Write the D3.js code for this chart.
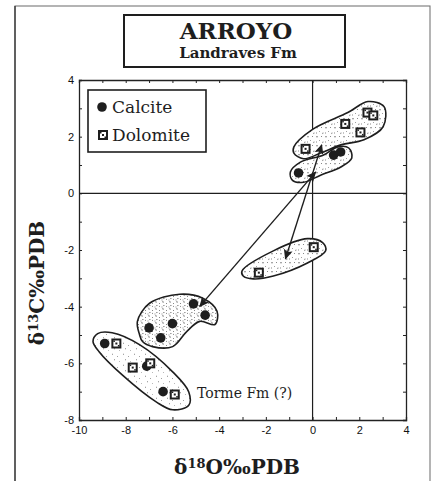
<!DOCTYPE html>
<html>
<head>
<meta charset="utf-8">
<script src="https://cdn.jsdelivr.net/npm/d3@7"></script>
<style>
  body { margin: 0; background: #fff; }
  .tick text { font-family: "Liberation Sans", Arial, sans-serif; font-size: 11px; fill: #111; }
  .axis path, .axis line { stroke: #222; }
</style>
</head>
<body>
<svg width="433" height="481"></svg>
<script>
// delta18O (x) and delta13C (y) values
var calciteX = [-0.6, 0.9, 1.2, -5.1, -4.6, -7.0, -6.0, -6.5, -8.9, -7.1, -6.4];
var calciteY = [0.72, 1.35, 1.46, -3.9, -4.3, -4.75, -4.6, -5.1, -5.3, -6.1, -7.0];
var dolomiteX = [-0.3, 1.4, 2.35, 2.6, 2.05, 0.05, -2.3, -8.4, -7.7, -6.95, -5.9];
var dolomiteY = [1.57, 2.45, 2.85, 2.75, 2.15, -1.9, -2.8, -5.3, -6.15, -6.0, -7.1];

// envelopes round each group (x, y pairs)
var envUpperX = [-0.8, 0.0, 1.51, 2.37, 3.06, 3.02, 2.2, 1.21, 0.34, -0.39, -0.8];
var envUpperY = [1.64, 2.26, 2.85, 3.24, 3.06, 2.35, 1.89, 1.71, 1.42, 1.22, 1.42];
var envCalcX = [-0.95, -0.52, 0.47, 1.08, 1.55, 1.68, 1.21, 0.34, -0.39, -0.86];
var envCalcY = [0.75, 1.1, 1.35, 1.64, 1.6, 1.25, 0.93, 0.64, 0.39, 0.46];
var envMidX = [-3.02, -1.68, -0.22, 0.43, 0.56, -0.22, -1.68, -2.54, -2.97];
var envMidY = [-2.74, -2.03, -1.6, -1.74, -2.03, -2.46, -2.92, -3.02, -2.92];
var envKidneyX = [-7.41, -7.5, -6.98, -5.69, -4.7, -4.09, -4.18, -4.83, -5.39, -5.99, -6.85, -7.28];
var envKidneyY = [-4.98, -4.52, -3.88, -3.56, -3.7, -4.16, -4.63, -4.52, -4.88, -5.41, -5.41, -5.23];
var envLowX = [-9.2, -8.58, -7.41, -5.99, -5.3, -5.3, -5.99, -6.68, -8.15, -9.14, -9.4];
var envLowY = [-4.95, -4.92, -5.34, -6.3, -7.01, -7.48, -7.64, -7.37, -6.41, -5.59, -5.23];

// double headed arrows: [x1, y1, x2, y2]
var arrowA = [0.13, 0.75, -4.83, -3.99];
var arrowB = [0.39, 1.71, -1.16, -2.31];

var xTicks = [-10, -9, -8, -7, -6, -5, -4, -3, -2, -1, 0, 1, 2, 3, 4];
var yTicks = [-8, -7, -6, -5, -4, -3, -2, -1, 0, 1, 2, 3, 4];

var svg = d3.select("svg");
var x = d3.scaleLinear().domain([-10, 4]).range([79, 406]);
var y = d3.scaleLinear().domain([-8, 4]).range([420, 80]);
var ink = "#1e1e1e";

// stipple patterns
var defs = svg.append("defs");
function stipple(id, w, marks) {
  var p = defs.append("pattern").attr("id", id).attr("patternUnits", "userSpaceOnUse")
    .attr("width", w).attr("height", w);
  p.append("rect").attr("width", w).attr("height", w).attr("fill", "#fff");
  marks.forEach(function(m) {
    p.append("path").attr("d", m).attr("stroke", "#555").attr("stroke-width", 0.7).attr("fill", "none");
  });
}
stipple("light", 11, ["M2,2 l1,0.5", "M7,4 l0.8,0.8", "M4,8 l1,-0.5", "M9,9 l0.6,0.6"]);
stipple("medium", 9, ["M1,2 q1,-1 2,0", "M6,1 l1,1", "M4,5 l0.8,0.8", "M7,7 q1,1 1.5,0", "M1,7 l1,0"]);
stipple("dense", 7, ["M1,1 q1,-1 2,0.5", "M5,2 l1,1", "M2,4 q0.5,1 1.5,0.5", "M5,5 l1,0.8", "M0.5,6 l1,0"]);

var arrowDef = defs.append("marker").attr("id", "head").attr("viewBox", "0 0 10 10")
  .attr("refX", 9).attr("refY", 5).attr("markerWidth", 12).attr("markerHeight", 10)
  .attr("markerUnits", "userSpaceOnUse").attr("orient", "auto-start-reverse");
arrowDef.append("path").attr("d", "M0,0.5 L10,5 L0,9.5 L2,5 Z").attr("fill", ink);

// outer figure frame
svg.append("rect").attr("x", 15).attr("y", 6).attr("width", 415).attr("height", 485)
  .attr("fill", "none").attr("stroke", "#777").attr("stroke-width", 1.1);
svg.append("line").attr("x1", 15).attr("x2", 15).attr("y1", 6).attr("y2", 481)
  .attr("stroke", "#333").attr("stroke-width", 1.3);

// title box
svg.append("rect").attr("x", 124).attr("y", 15).attr("width", 221).attr("height", 52)
  .attr("fill", "#fff").attr("stroke", ink).attr("stroke-width", 2);
svg.append("text").attr("x", 236).attr("y", 39).attr("text-anchor", "middle")
  .attr("font-family", "DejaVu Serif").attr("font-weight", "bold").attr("font-size", 23)
  .attr("fill", ink).text("ARROYO");
svg.append("text").attr("x", 238).attr("y", 58).attr("text-anchor", "middle")
  .attr("font-family", "DejaVu Serif").attr("font-weight", "bold").attr("font-size", 15)
  .attr("fill", ink).text("Landraves Fm");

// axes with small inward ticks
svg.append("g").attr("class", "axis").attr("transform", "translate(0,420)")
  .call(d3.axisBottom(x).tickValues(xTicks).tickSize(-3).tickPadding(6)
    .tickFormat(function(d) { return d % 2 === 0 ? String(d) : ""; }));
svg.append("g").attr("class", "axis").attr("transform", "translate(0,80)")
  .call(d3.axisTop(x).tickValues(xTicks).tickSize(-3).tickFormat(""));
svg.append("g").attr("class", "axis").attr("transform", "translate(79,0)")
  .call(d3.axisLeft(y).tickValues(yTicks).tickSize(-3).tickPadding(5)
    .tickFormat(function(d) { return d % 2 === 0 ? String(d) : ""; }));
svg.append("g").attr("class", "axis").attr("transform", "translate(406,0)")
  .call(d3.axisRight(y).tickValues(yTicks).tickSize(-3).tickFormat(""));
svg.selectAll(".axis path").attr("stroke-width", 1.3);

// zero lines
svg.append("line").attr("x1", x(0)).attr("x2", x(0)).attr("y1", y(4)).attr("y2", y(-8))
  .attr("stroke", ink).attr("stroke-width", 1.2);
svg.append("line").attr("x1", x(-10)).attr("x2", x(4)).attr("y1", y(0)).attr("y2", y(0))
  .attr("stroke", ink).attr("stroke-width", 1.2);

// envelopes
var blob = d3.line().x(function(d) { return x(d[0]); }).y(function(d) { return y(d[1]); })
  .curve(d3.curveCatmullRomClosed.alpha(0.5));
function envelope(xs, ys, fill) {
  svg.append("path").attr("d", blob(d3.zip(xs, ys)))
    .attr("fill", "url(#" + fill + ")").attr("stroke", ink).attr("stroke-width", 1.6);
}
envelope(envUpperX, envUpperY, "medium");
envelope(envCalcX, envCalcY, "medium");
envelope(envMidX, envMidY, "medium");
envelope(envKidneyX, envKidneyY, "dense");
envelope(envLowX, envLowY, "light");

// arrows
[arrowA, arrowB].forEach(function(a) {
  svg.append("line").attr("x1", x(a[0])).attr("y1", y(a[1])).attr("x2", x(a[2])).attr("y2", y(a[3]))
    .attr("stroke", ink).attr("stroke-width", 1.4)
    .attr("marker-start", "url(#head)").attr("marker-end", "url(#head)");
});

// symbols
function dolomiteMark(g) {
  g.append("rect").attr("x", -5).attr("y", -5).attr("width", 10).attr("height", 10).attr("fill", ink);
  g.append("rect").attr("x", -3).attr("y", -3).attr("width", 6).attr("height", 6).attr("fill", "#fff");
  g.append("rect").attr("x", -1).attr("y", -1).attr("width", 2).attr("height", 2).attr("fill", ink);
  g.append("rect").attr("x", -3).attr("y", -3).attr("width", 1.5).attr("height", 1.5).attr("fill", ink);
  g.append("rect").attr("x", 1.5).attr("y", 1.5).attr("width", 1.5).attr("height", 1.5).attr("fill", ink);
}
svg.append("g").selectAll("circle").data(d3.zip(calciteX, calciteY)).enter().append("circle")
  .attr("cx", function(d) { return x(d[0]); }).attr("cy", function(d) { return y(d[1]); })
  .attr("r", 4.8).attr("fill", ink);
svg.append("g").selectAll("g").data(d3.zip(dolomiteX, dolomiteY)).enter().append("g")
  .attr("transform", function(d) { return "translate(" + x(d[0]) + "," + y(d[1]) + ")"; })
  .each(function() { dolomiteMark(d3.select(this)); });

// legend
svg.append("rect").attr("x", 88).attr("y", 90).attr("width", 118).attr("height", 62)
  .attr("fill", "#fff").attr("stroke", ink).attr("stroke-width", 1.6);
svg.append("circle").attr("cx", 102).attr("cy", 107).attr("r", 4.8).attr("fill", ink);
dolomiteMark(svg.append("g").attr("transform", "translate(103,135)"));
svg.append("text").attr("x", 112).attr("y", 113).attr("font-family", "DejaVu Serif")
  .attr("font-size", 17).attr("fill", ink).text("Calcite");
svg.append("text").attr("x", 112).attr("y", 141).attr("font-family", "DejaVu Serif")
  .attr("font-size", 17).attr("fill", ink).text("Dolomite");

// annotation
svg.append("text").attr("x", 197).attr("y", 398).attr("font-family", "DejaVu Serif")
  .attr("font-size", 14).attr("fill", ink).text("Torme Fm (?)");

// axis titles
var xt = svg.append("text").attr("x", 237).attr("y", 474).attr("text-anchor", "middle")
  .attr("font-family", "DejaVu Serif").attr("font-weight", "bold").attr("font-size", 20).attr("fill", ink);
xt.append("tspan").text("δ");
xt.append("tspan").attr("font-size", 13).attr("dy", -6).text("18");
xt.append("tspan").attr("dy", 6).text("O‰PDB");

var yt = svg.append("text").attr("transform", "translate(44,283) rotate(-90)").attr("text-anchor", "middle")
  .attr("font-family", "DejaVu Serif").attr("font-weight", "bold").attr("font-size", 20).attr("fill", ink);
yt.append("tspan").text("δ");
yt.append("tspan").attr("font-size", 13).attr("dy", -6).text("13");
yt.append("tspan").attr("dy", 6).text("C‰PDB");
</script>
</body>
</html>
